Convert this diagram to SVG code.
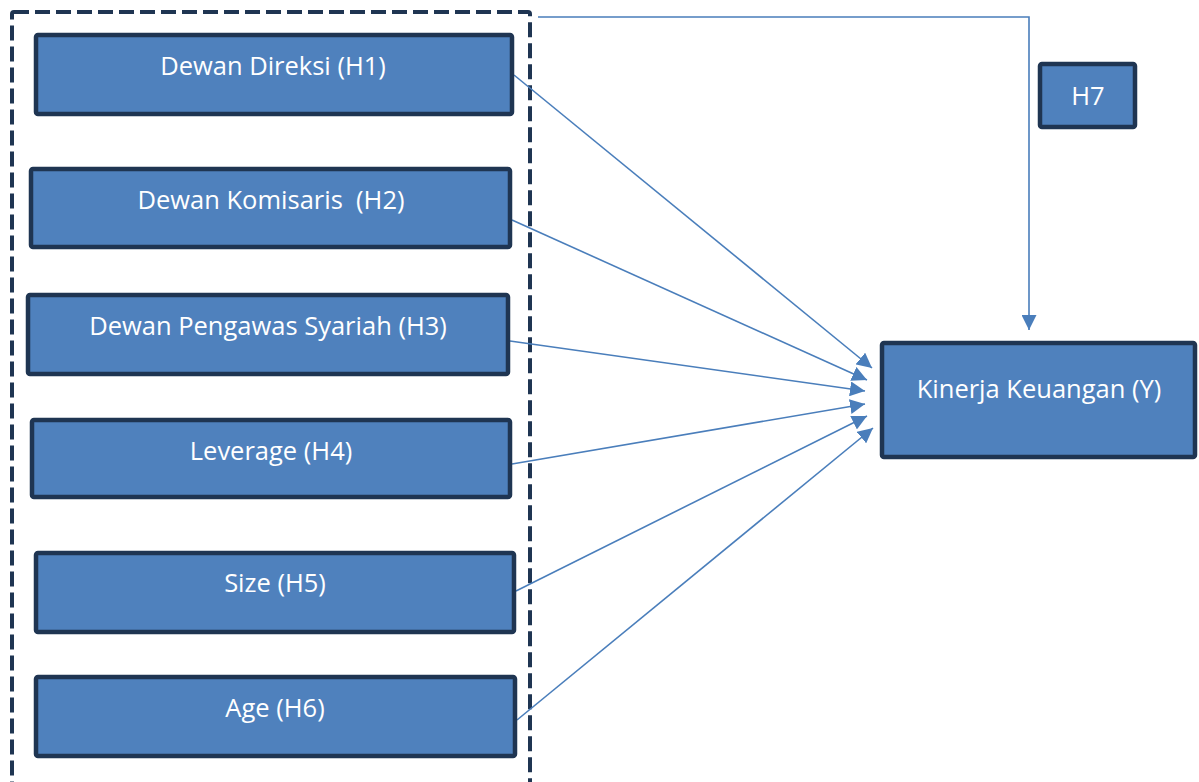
<svg xmlns="http://www.w3.org/2000/svg" width="1199" height="782" viewBox="0 0 1199 782">
<defs>
<style>
.box{fill:#4f81bd;stroke:#1f3552;stroke-width:4.5}
.lbl{fill:#ffffff;font-family:"Open Sans","Noto Sans","Liberation Sans",sans-serif;font-size:25.5px;text-anchor:middle}
.con{stroke:#4a7ebb;stroke-width:1.6;fill:none}
</style>
<marker id="ah2" viewBox="0 0 10 10" refX="10" refY="5" markerWidth="15" markerHeight="15" markerUnits="userSpaceOnUse" orient="auto">
<path d="M0,0 L10,5 L0,10 z" fill="#4a7ebb"/>
</marker>
</defs>
<rect width="1199" height="782" fill="#ffffff"/>
<g id="group-border">
<rect x="12" y="12" width="518" height="780" fill="none" stroke="#1f3552" stroke-width="4" stroke-dasharray="15,6" rx="2"/>
</g>
<g id="connectors">
<polyline class="con" points="538,17 1029,17 1029,330" marker-end="url(#ah2)"/>
<line class="con" x1="514" y1="75" x2="872" y2="368" marker-end="url(#ah2)"/>
<line class="con" x1="512" y1="220" x2="867" y2="380" marker-end="url(#ah2)"/>
<line class="con" x1="510" y1="341" x2="865" y2="391" marker-end="url(#ah2)"/>
<line class="con" x1="512" y1="464" x2="865" y2="404" marker-end="url(#ah2)"/>
<line class="con" x1="516" y1="591" x2="867" y2="416" marker-end="url(#ah2)"/>
<line class="con" x1="517" y1="720" x2="873" y2="428" marker-end="url(#ah2)"/>
</g>
<g id="n1"><rect class="box" x="36" y="35" width="476" height="79" rx="2"/><text class="lbl" x="273" y="75">Dewan Direksi (H1)</text></g>
<g id="n2"><rect class="box" x="31" y="169" width="479" height="78" rx="2"/><text class="lbl" x="271" y="209" xml:space="preserve">Dewan Komisaris  (H2)</text></g>
<g id="n3"><rect class="box" x="28" y="295" width="480" height="79" rx="2"/><text class="lbl" x="268" y="335">Dewan Pengawas Syariah (H3)</text></g>
<g id="n4"><rect class="box" x="32" y="420" width="478" height="77" rx="2"/><text class="lbl" x="271" y="460">Leverage (H4)</text></g>
<g id="n5"><rect class="box" x="36" y="553" width="478" height="79" rx="2"/><text class="lbl" x="275" y="592">Size (H5)</text></g>
<g id="n6"><rect class="box" x="36" y="677" width="479" height="79" rx="2"/><text class="lbl" x="275" y="717">Age (H6)</text></g>
<g id="ny"><rect class="box" x="882" y="343" width="313" height="114" rx="2"/><text class="lbl" x="1039" y="398">Kinerja Keuangan (Y)</text></g>
<g id="n7"><rect class="box" x="1040" y="64" width="95" height="63" rx="2"/><text class="lbl" x="1088" y="105">H7</text></g>
</svg>
